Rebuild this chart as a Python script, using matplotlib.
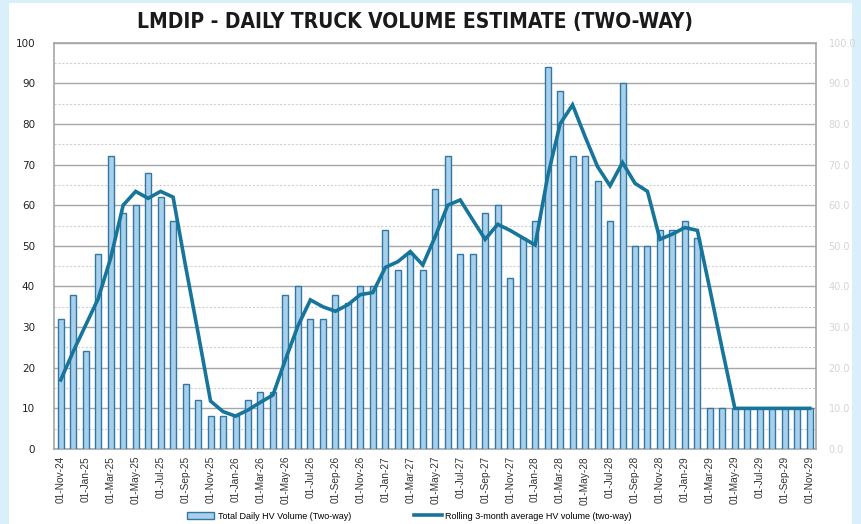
import numpy as np
import pandas as pd
import matplotlib
matplotlib.use('Agg')
import matplotlib.pyplot as plt
from matplotlib.patches import Rectangle

# 月份（2024-11 至 2029-11）
months = pd.date_range('2024-11-01', periods=61, freq='MS')
month_labels = [d.strftime('%d-%b-%y') for d in months]

# 每日重型车辆（双向）
daily_hv = [32, 38, 24, 48, 72, 58, 60, 68, 62, 56,
            16, 12, 8, 8, 8, 12, 14, 14, 38, 40,
            32, 32, 38, 36, 40, 40, 54, 44, 48, 44,
            64, 72, 48, 48, 58, 60, 42, 52, 56, 94,
            88, 72, 72, 66, 56, 90, 50, 50, 54, 54,
            56, 52, 10, 10, 10, 10, 10, 10, 10, 10,
            10]

# 3个月滚动平均
rolling_avg = [17.0, 24.0, 30.5, 37.0, 47.0, 60.0, 63.4, 61.7, 63.4, 62.0,
               45.0, 28.6, 11.8, 9.2, 8.1, 9.6, 11.5, 13.3, 22.0, 30.3,
               36.7, 35.0, 33.9, 35.5, 38.0, 38.5, 44.7, 46.1, 48.6, 45.3,
               52.3, 60.0, 61.3, 56.4, 51.6, 55.3, 53.8, 52.0, 50.2, 67.0,
               80.0, 84.7, 76.9, 69.5, 64.8, 70.5, 65.4, 63.4, 51.6, 52.9,
               54.5, 53.8, 39.3, 24.4, 10.0, 10.0, 10.0, 10.0, 10.0, 10.0,
               10.0]

bar_face = '#a9d0ea'
bar_edge = '#2f78a6'
line_col = '#17759b'

fig = plt.figure(figsize=(8.62, 5.24), dpi=100, facecolor='#d9f0fb')
# 白色面板
fig.patches.append(Rectangle((9 / 862, 0), (852 - 9) / 862, 1 - 3 / 524,
                             transform=fig.transFigure, facecolor='white',
                             edgecolor='none', zorder=-10))

ax = fig.add_axes([54.5 / 862, 1 - 449 / 524, (816 - 54.5) / 862, (449 - 42.7) / 524])
ax.set_zorder(2)
x = np.arange(len(daily_hv))

bars = ax.bar(x, daily_hv, width=0.48, color=bar_face, edgecolor=bar_edge,
              linewidth=1.0, zorder=3)
line, = ax.plot(x, rolling_avg, color=line_col, linewidth=2.6, zorder=4,
                solid_joinstyle='miter')

ax.set_xlim(-0.5, 60.5)
ax.set_ylim(0, 100)
ax.set_yticks(np.arange(0, 101, 10))
ax.set_yticks(np.arange(5, 100, 10), minor=True)
ax.grid(axis='y', which='major', color='#a6a6a6', linewidth=1.0, zorder=0)
ax.grid(axis='y', which='minor', color='#d0d0d0', linewidth=0.8, linestyle=(0, (2, 1.5)), zorder=0)
ax.tick_params(axis='y', which='both', length=0, labelsize=7.5, colors='#222222', pad=14)
ax.set_xticks(x[::2])
ax.set_xticklabels(month_labels[::2], rotation=90, fontsize=7.3,
                   color='#333333', family='Liberation Sans')
ax.tick_params(axis='x', length=0, pad=5)
for s in ax.spines.values():
    s.set_color('#a6a6a6')
    s.set_linewidth(1.2)

# 右侧副轴（浅灰）
ax2 = ax.twinx()
ax2.set_zorder(1)
ax2.set_ylim(0, 100)
ax2.set_yticks(np.arange(0, 101, 10))
ax2.set_yticklabels([f'{v:.1f}' for v in np.arange(0, 101, 10)])
ax2.tick_params(axis='y', length=0, labelsize=7, colors='#d4d4d4', pad=9)
for s in ax2.spines.values():
    s.set_visible(False)

fig.text(0.481, 0.958, 'LMDIP - DAILY TRUCK VOLUME ESTIMATE (TWO-WAY)',
         ha='center', va='center', fontsize=15, fontweight='bold',
         family='DejaVu Sans', fontstretch='condensed', color='#1a1a1a')

fig.legend([bars, line],
           ['Total Daily HV Volume (Two-way)', 'Rolling 3-month average HV volume (two-way)'],
           loc='center', bbox_to_anchor=(0.475, 0.015), ncol=2,
           frameon=False, handlelength=3, columnspacing=7, handletextpad=0.4,
           prop={'family': 'Liberation Sans', 'size': 6.5})

fig.savefig('out.png', dpi=100, facecolor=fig.get_facecolor())
